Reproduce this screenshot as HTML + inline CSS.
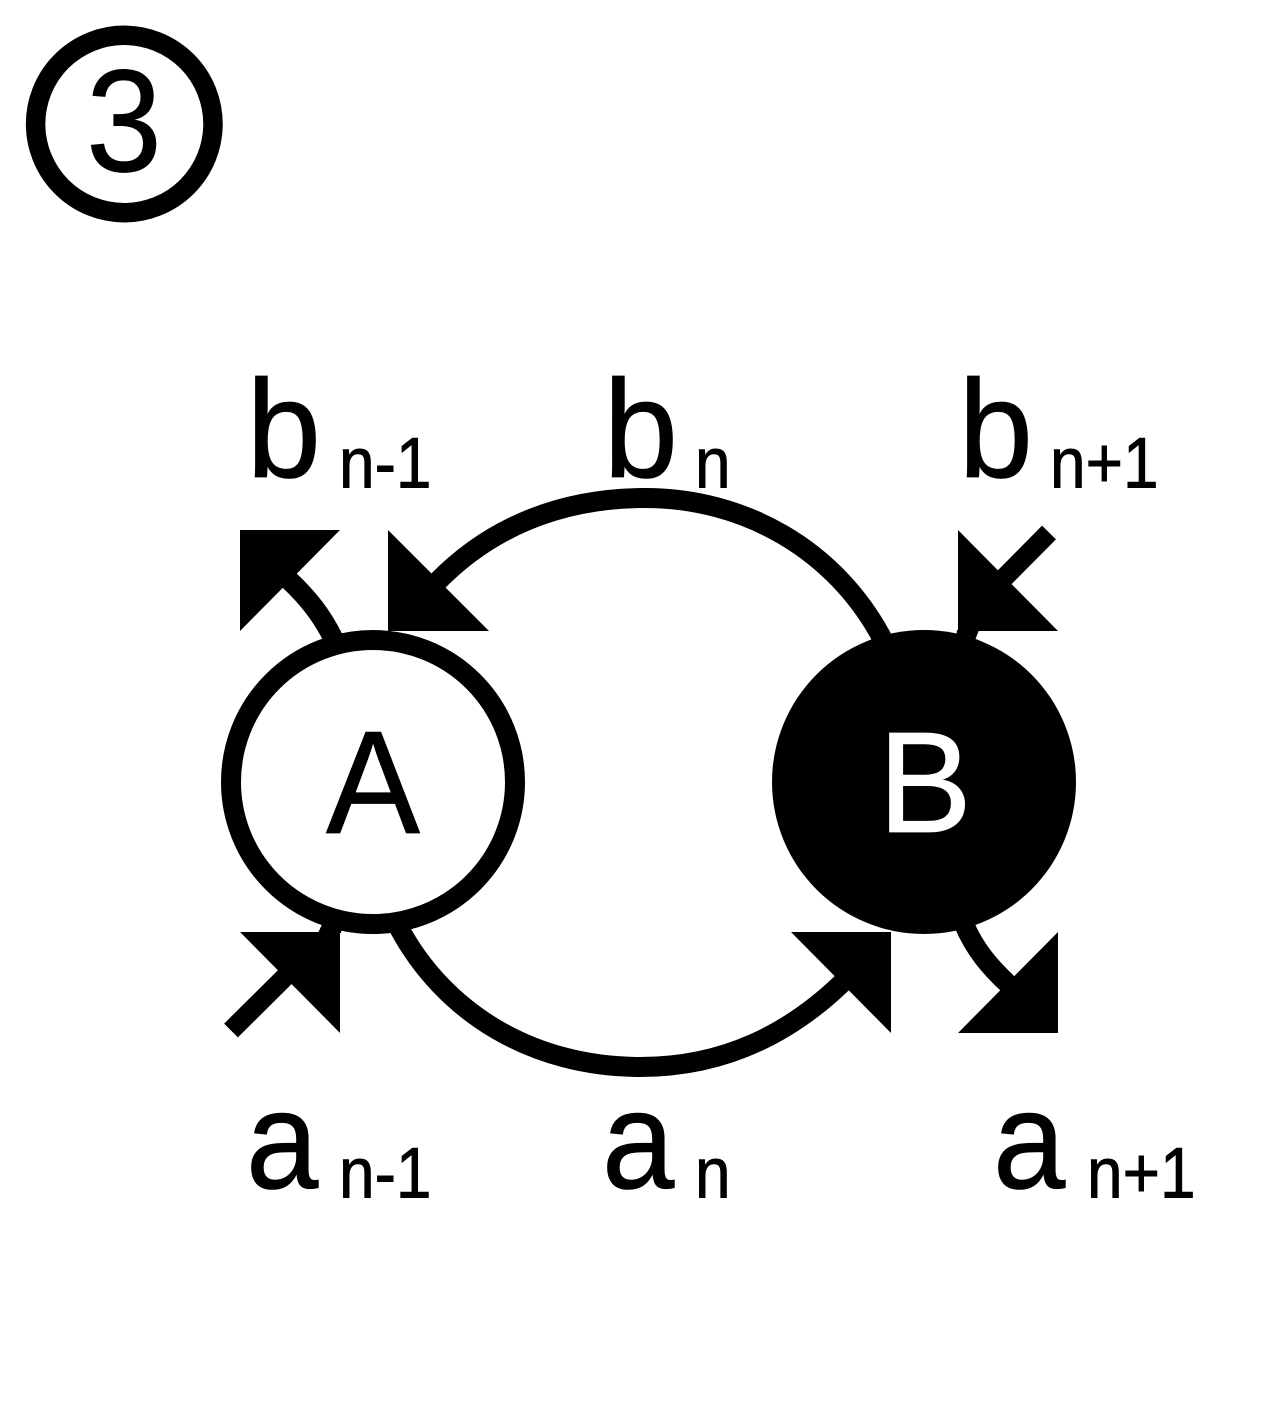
<!DOCTYPE html>
<html>
<head>
<meta charset="utf-8">
<style>
html,body{margin:0;padding:0;background:#fff;width:1280px;height:1422px;overflow:hidden}
svg{display:block}
text{font-family:"Liberation Sans",sans-serif;fill:#000;stroke:#000;stroke-width:.8}
</style>
</head>
<body>
<svg width="1280" height="1422" viewBox="0 0 1280 1422" xmlns="http://www.w3.org/2000/svg">
<rect width="1280" height="1422" fill="#fff"/>
<circle cx="124.3" cy="124" r="88.7" fill="none" stroke="#000" stroke-width="19.5"/>
<text transform="translate(124,171) scale(1,1.07)" font-size="136" text-anchor="middle">3</text>

<!-- arcs -->
<path d="M882 638 C835 550 745 498 645 498 C560 498 490 528 438 581" fill="none" stroke="#000" stroke-width="20"/>
<path d="M398 926 C445 1015 535 1067 640 1067 C725 1067 790 1033 842 983" fill="none" stroke="#000" stroke-width="20"/>
<path d="M334 640 C322 615 307 597 289 580" fill="none" stroke="#000" stroke-width="20"/>
<path d="M964 924 C975 950 990 967 1008 984" fill="none" stroke="#000" stroke-width="20"/>
<line x1="1049" y1="532.5" x2="995" y2="587" stroke="#000" stroke-width="19.5"/>
<line x1="231" y1="1030.5" x2="295" y2="967" stroke="#000" stroke-width="19.5"/>

<!-- arrowheads -->
<polygon points="240,530 340,530 240,631" fill="#000"/>
<polygon points="388,530 489,631 388,631" fill="#000"/>
<polygon points="958,530 1058,631 958,631" fill="#000"/>
<polygon points="340,932 340,1033 240,932" fill="#000"/>
<polygon points="891,932 891,1033 791,932" fill="#000"/>
<polygon points="1058,932 1058,1033 958,1033" fill="#000"/>

<!-- stubs between arrowheads and nodes -->
<polygon points="957,630 979,630 972,648 955,648" fill="#000"/>
<polygon points="318,933 341,933 343,918 325,918" fill="#000"/>

<!-- nodes -->
<circle cx="373" cy="782" r="142" fill="#fff" stroke="#000" stroke-width="20"/>
<circle cx="924" cy="782" r="152" fill="#000"/>
<text transform="translate(373,833) scale(1,1.04)" font-size="141" text-anchor="middle">A</text>
<text transform="translate(925,832) scale(1,1.02)" font-size="141" text-anchor="middle" style="fill:#fff;stroke:#fff">B</text>

<!-- top labels -->
<text transform="translate(246.5,477) scale(1,1.04)" font-size="134">b</text>
<text transform="translate(339,487.5) scale(1,1.12)" font-size="64">n-1</text>
<text transform="translate(603.5,477) scale(1,1.04)" font-size="134">b</text>
<text transform="translate(695,487.5) scale(1,1.12)" font-size="64">n</text>
<text transform="translate(958.5,477) scale(1,1.04)" font-size="134">b</text>
<text transform="translate(1050,487.5) scale(1,1.12)" font-size="64">n+1</text>

<!-- bottom labels -->
<text transform="translate(246,1188) scale(1,1.07)" font-size="130">a</text>
<text transform="translate(339,1197.5) scale(1,1.12)" font-size="64">n-1</text>
<text transform="translate(602,1188) scale(1,1.07)" font-size="130">a</text>
<text transform="translate(695,1197.5) scale(1,1.12)" font-size="64">n</text>
<text transform="translate(993,1188) scale(1,1.07)" font-size="130">a</text>
<text transform="translate(1087,1197.5) scale(1,1.12)" font-size="64">n+1</text>
</svg>
</body>
</html>
